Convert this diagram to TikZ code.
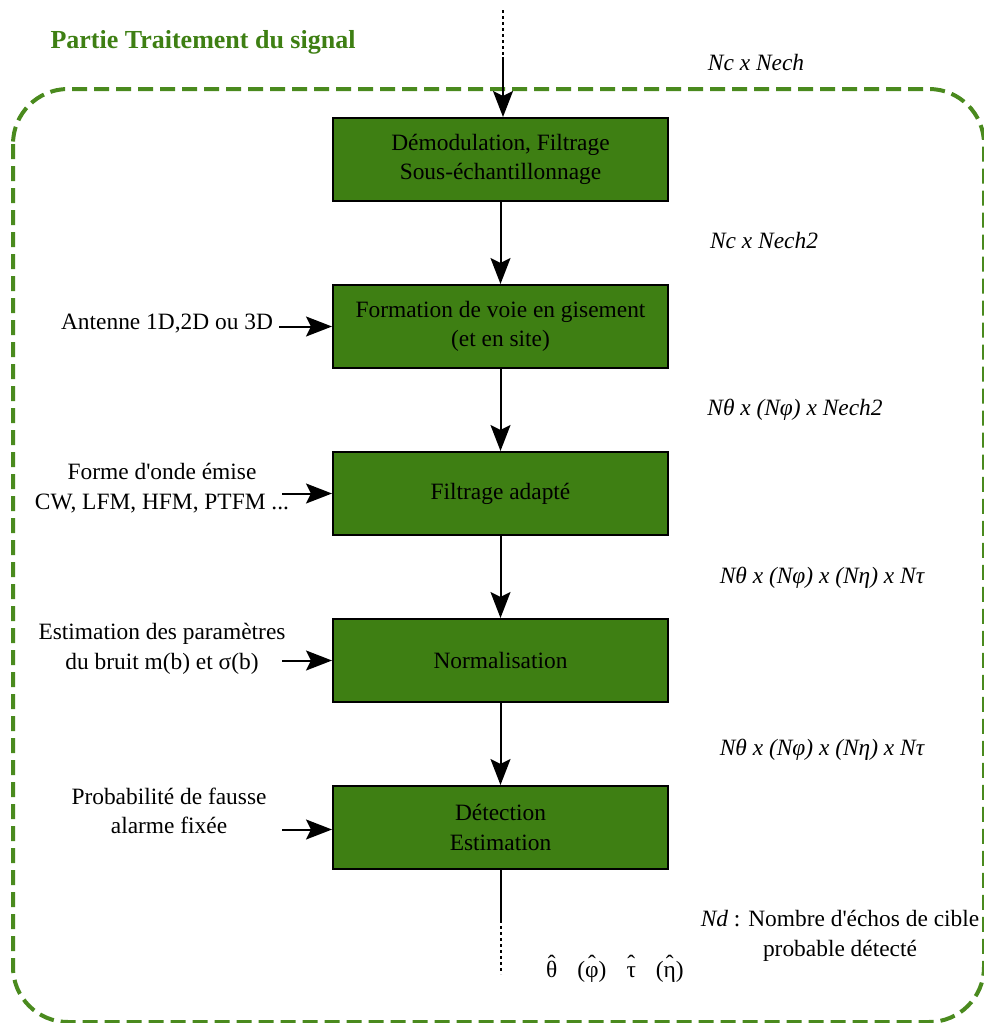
\documentclass[tikz,border=0pt]{standalone}
\usepackage{fontspec}
\setmainfont{Liberation Serif}
\usetikzlibrary{positioning, arrows.meta}

\definecolor{stagegreen}{HTML}{3E7F13}
\definecolor{framegreen}{HTML}{4A8A1E}
\newcommand{\diagfont}{\fontsize{23.4}{29.5}\selectfont}
\newcommand{\hatgr}[1]{\ooalign{#1\cr\hidewidth\raisebox{6.5pt}{ˆ}\hidewidth\cr}}

\begin{document}
\begin{tikzpicture}[x=1pt, y=-1pt,
    stage/.style={draw, line width=2pt, fill=stagegreen, align=center,
                  minimum width=335pt, minimum height=83pt, font=\diagfont},
    lab/.style={align=center, inner sep=0pt, font=\diagfont},
    size/.style={inner sep=0pt, font=\diagfont\itshape},
    arr/.style={-{Stealth[length=26pt, width=20pt, inset=5pt]}, line width=2pt},
    dots/.style={line width=2pt, dash pattern=on 3pt off 3pt}
  ]
  \useasboundingbox (0,0) rectangle (984,1023);

  % cadre de la partie traitement
  \draw[framegreen, line width=4pt, dash pattern=on 15pt off 7pt,
        rounded corners=55pt] (13,89) rectangle (984,1022);
  \node[inner sep=0pt, text=stagegreen, font=\fontsize{26}{30}\selectfont\bfseries]
    (titre) at (203,42) {Partie Traitement du signal};

  % chaine de traitement
  \node[stage] (demod) at (500.5,159.5) {Démodulation, Filtrage\\Sous-échantillonnage};
  \node[stage, below=82pt of demod] (voie) {Formation de voie en gisement\\(et en site)};
  \node[stage, below=82pt of voie] (adapte) {Filtrage adapté};
  \node[stage, below=82pt of adapte] (norm) {Normalisation};
  \node[stage, below=82pt of norm] (detect) {Détection\\Estimation};

  \coordinate (in0) at (503,10);
  \coordinate (in1) at (503,57);
  \draw[dots] (in0) -- (in1);
  \draw[arr] (in1) -- (in1 |- demod.north);
  \draw[arr] (demod) -- (voie);
  \draw[arr] (voie) -- (adapte);
  \draw[arr] (adapte) -- (norm);
  \draw[arr] (norm) -- (detect);

  \coordinate[below=50pt of detect.south] (out1);
  \coordinate[below=104pt of detect.south] (out2);
  \draw[line width=2pt] (detect) -- (out1);
  \draw[dots] (out1) -- (out2);

  % entrees laterales
  \node[lab] (antenne) at (167,324) {Antenne 1D,2D ou 3D};
  \node[lab] (forme) at (162,488) {Forme d\textquotesingle onde émise\\CW, LFM, HFM, PTFM ...};
  \node[lab] (bruit) at (162,649) {Estimation des paramètres\\du bruit m(b) et σ(b)};
  \node[lab] (pfa) at (169,811) {Probabilité de fausse\\alarme fixée};
  \draw[arr] ([xshift=-53pt]voie.west) -- (voie.west);
  \draw[arr] ([xshift=-50pt]adapte.west) -- (adapte.west);
  \draw[arr] ([xshift=-50pt]norm.west) -- (norm.west);
  \draw[arr] ([xshift=-50pt,yshift=-2pt]detect.west) -- ([yshift=-2pt]detect.west);

  % dimensions des donnees
  \node[size] (dim0) at (756,62) {Nc x Nech};
  \node[size] (dim1) at (764,240) {Nc x Nech2};
  \node[size] (dim2) at (795,410) {Nθ x (Nφ) x Nech2};
  \node[size] (dim3) at (822,578) {Nθ x (Nφ) x (Nη) x Nτ};
  \node[size] (dim4) at (822,750) {Nθ x (Nφ) x (Nη) x Nτ};
  \node[lab] (nd) at (840,936) {\textit{Nd} : Nombre d\textquotesingle échos de cible\\probable détecté};
  \node[lab] (sortie) at (615,972)
    {\hatgr{θ}\hspace{20pt}(\hatgr{φ})\hspace{20pt}\hatgr{τ}\hspace{20pt}(\hatgr{η})};
\end{tikzpicture}
\end{document}
